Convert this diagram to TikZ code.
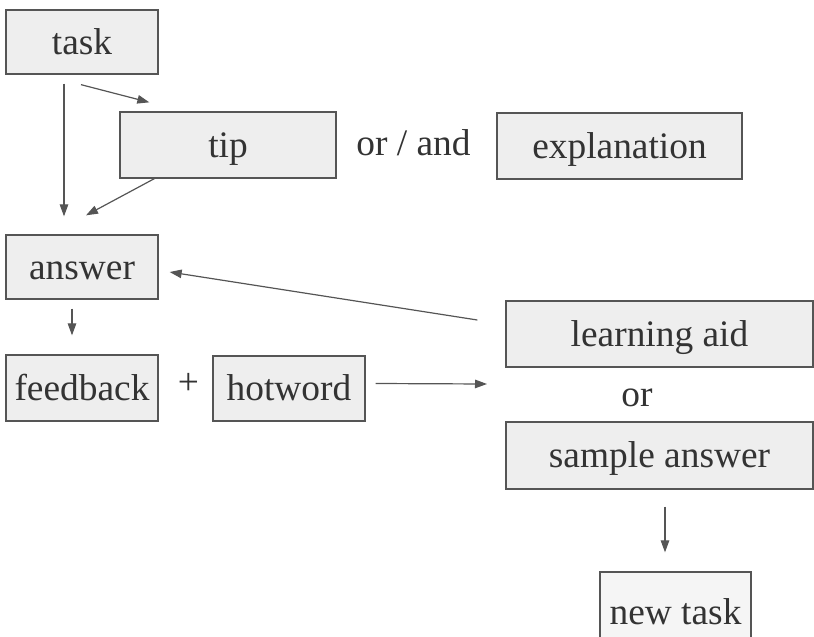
\documentclass[tikz,border=0pt]{standalone}
\usepackage{fontspec}
\setmainfont{Liberation Serif}
\newfontfamily\timesx{Liberation Serif}
\usetikzlibrary{arrows.meta}
\definecolor{boxfill}{HTML}{EEEEEE}
\definecolor{boxline}{HTML}{555555}
\definecolor{ink}{HTML}{333333}
\begin{document}
\begin{tikzpicture}[x=1pt,y=-1pt,
  every node/.style={font=\timesx\fontsize{37.4}{40}\selectfont, text=ink},
  box/.style={draw=boxline, line width=1.3pt, fill=boxfill, inner sep=0pt,
    text height=28pt, text depth=4pt, align=center},
  arr/.style={draw=boxline, line width=1.2pt, -{Triangle[length=12pt,width=8.5pt]}},
  lbl/.style={inner sep=0pt, anchor=base}]
\useasboundingbox (0,0) rectangle (814,637);
\clip (0,0) rectangle (814,637);
\node[box, minimum width=152pt, minimum height=64pt] (task) at (82,42) {task};
\node[box, minimum width=216pt, minimum height=66pt] (tip) at (228,145) {tip};
\node[box, minimum width=245pt, minimum height=66pt] (expl) at (619.5,146) {explanation};
\node[lbl] (orand) at (413.5,155) {or / and};
\node[box, minimum width=152pt, minimum height=64pt] (answer) at (82,267) {answer};
\node[box, minimum width=152pt, minimum height=66pt] (feedback) at (82,388) {feedback};
\node[inner sep=0pt] (plus) at (188.5,384) {+};
\node[box, minimum width=152pt, minimum height=65pt] (hotword) at (289,388.5) {hotword};
\node[box, minimum width=307pt, minimum height=66pt] (learn) at (659.5,334) {learning aid};
\node[lbl] (or) at (637,406) {or};
\node[box, minimum width=307pt, minimum height=67pt] (sample) at (659.5,455.5) {sample answer};
\node[box, fill=white!96!black, minimum width=151pt, minimum height=80pt] (newtask) at (675.5,612) {new task};
\coordinate (hwend) at (487,384);
% connectors
\draw[arr] ([xshift=-18pt,yshift=-9pt]task.south) -- ([xshift=-18pt,yshift=18pt]answer.north);
\draw[arr] ([xshift=-1pt,yshift=-10pt]task.south) -- ([xshift=30pt,yshift=9pt]tip.north west);
\draw[arr] ([xshift=35pt]tip.south west) -- ([xshift=4pt,yshift=19pt]answer.north);
\draw[arr] ([xshift=-28pt,yshift=14pt]learn.west) -- ([xshift=11pt,yshift=-5pt]answer.east);
\draw[arr] ([xshift=-10pt,yshift=-9pt]answer.south) -- ([xshift=-10pt,yshift=19pt]feedback.north);
\draw[arr] ([xshift=10pt,yshift=5pt]hotword.east) -- (hwend);
\draw[arr] ([xshift=5.5pt,yshift=-17pt]sample.south) -- ([xshift=-10.5pt,yshift=19pt]newtask.north);
\end{tikzpicture}
\end{document}
